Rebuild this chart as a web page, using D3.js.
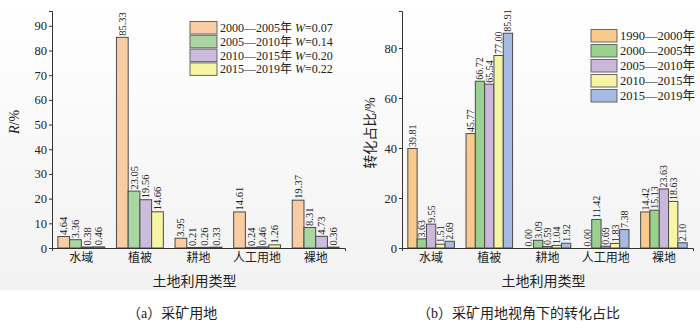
<!DOCTYPE html>
<html>
<head>
<meta charset="utf-8">
<script src="https://cdn.jsdelivr.net/npm/d3@7/dist/d3.min.js"></script>
<style>
  html, body { margin: 0; padding: 0; background: #fff; }
  svg { display: block; }
  text { font-family: "Liberation Serif", "Noto Sans CJK SC", serif; fill: #222; }
</style>
</head>
<body>
<svg id="fig" width="700" height="330"></svg>
<script>
// Land-use categories shared by both panels
const categories = ["水域", "植被", "耕地", "人工用地", "裸地"];

// Panel (a): mining land, contribution R (%) per period
const periodsA = ["2000—2005年", "2005—2010年", "2010—2015年", "2015—2019年"];
const weightsA = ["0.07", "0.14", "0.20", "0.22"];
const a2000_2005 = [4.64, 85.33, 3.95, 14.61, 19.37];
const a2005_2010 = [3.36, 23.05, 0.21, 0.24, 8.31];
const a2010_2015 = [0.38, 19.56, 0.26, 0.46, 4.73];
const a2015_2019 = [0.46, 14.66, 0.33, 1.26, 0.36];
const valuesA = [a2000_2005, a2005_2010, a2010_2015, a2015_2019];
const colorsA = ["#f8cda3", "#a9d6a2", "#cbbbdc", "#f6f5a4"];
const ticksA = [0, 10, 20, 30, 40, 50, 60, 70, 80, 90];

// Panel (b): transfer share (%) seen from mining land
const periodsB = ["1990—2000年", "2000—2005年", "2005—2010年", "2010—2015年", "2015—2019年"];
const b1990_2000 = [39.81, 45.77, 0.00, 0.00, 14.42];
const b2000_2005 = [3.63, 66.72, 3.09, 11.42, 15.13];
const b2005_2010 = [9.55, 65.54, 0.59, 0.69, 23.63];
const b2010_2015 = [1.51, 77.00, 1.04, 1.83, 18.63];
const b2015_2019 = [2.69, 85.91, 1.92, 7.38, 2.10];
const valuesB = [b1990_2000, b2000_2005, b2005_2010, b2010_2015, b2015_2019];
const colorsB = ["#f8cb8d", "#9bd18e", "#cab7da", "#f7f4a3", "#a7bbe2"];
const ticksB = [0, 20, 40, 60, 80];

const svg = d3.select("#fig");

// soft paper tone behind the plotting area
const defs = svg.append("defs");
const grad = defs.append("linearGradient").attr("id", "paper")
  .attr("x1", 0).attr("y1", 0).attr("x2", 0).attr("y2", 1);
grad.append("stop").attr("offset", "0%").attr("stop-color", "#ffffff");
grad.append("stop").attr("offset", "100%").attr("stop-color", "#f2f2f2");
svg.append("rect").attr("x", 0).attr("y", 0).attr("width", 700).attr("height", 290)
  .attr("fill", "url(#paper)");

function panel(opts) {
  const g = svg.append("g");
  const x0 = d3.scaleBand().domain(categories)
    .range([opts.left, opts.right]).paddingInner(0.2).paddingOuter(0.1);
  const x1 = d3.scaleBand().domain(d3.range(opts.values.length))
    .range([0, x0.bandwidth()]);
  const y = d3.scaleLinear().domain([0, opts.ymax]).range([opts.bottom, opts.top]);

  // bars + rotated value labels
  opts.values.forEach((series, si) => {
    const sg = g.append("g");
    sg.selectAll("rect").data(series).join("rect")
      .attr("x", (d, i) => x0(categories[i]) + x1(si))
      .attr("y", d => y(d))
      .attr("width", x1.bandwidth())
      .attr("height", d => opts.bottom - y(d))
      .attr("fill", opts.colors[si])
      .attr("stroke", "#4a4a4a")
      .attr("stroke-width", 1);
    sg.selectAll("text").data(series).join("text")
      .attr("transform", (d, i) => {
        const cx = x0(categories[i]) + x1(si) + x1.bandwidth() / 2;
        return `translate(${cx},${y(d) - 1.5}) rotate(-90)`;
      })
      .attr("dominant-baseline", "central")
      .attr("text-anchor", "start")
      .style("font-size", opts.labelSize + "px")
      .text(d => d.toFixed(2));
  });

  // axes
  const yAxis = d3.axisLeft(y).tickValues(opts.ticks)
    .tickSizeInner(3).tickSizeOuter(3).tickPadding(2);
  const ya = g.append("g").attr("transform", `translate(${opts.left},0)`).call(yAxis);
  const xAxis = d3.axisBottom(x0).tickSizeInner(0).tickSizeOuter(3).tickPadding(5);
  const xa = g.append("g").attr("transform", `translate(0,${opts.bottom})`).call(xAxis);
  [ya, xa].forEach(a => {
    a.selectAll("path, line").attr("stroke", "#333");
    a.selectAll("text").style("font-size", "12.5px").attr("fill", "#222")
      .style("font-family", '"Liberation Serif", "Noto Sans CJK SC", serif');
  });
  xa.selectAll("text").style("font-size", "12px");

  // axis titles
  g.append("text")
    .attr("x", (opts.left + opts.right) / 2 - 4).attr("y", 281)
    .attr("text-anchor", "middle").attr("dominant-baseline", "central")
    .style("font-size", "14px").text("土地利用类型");
  return { g, x0, y };
}

// ---- panel (a)
const pa = panel({
  left: 52, right: 345, top: 11, bottom: 248, ymax: 96,
  values: valuesA, colors: colorsA, ticks: ticksA, labelSize: 10.5
});
pa.g.append("text")
  .attr("transform", "translate(14,122) rotate(-90)")
  .attr("text-anchor", "middle").attr("dominant-baseline", "central")
  .style("font-size", "14px")
  .call(t => {
    t.append("tspan").style("font-style", "italic").text("R");
    t.append("tspan").text("/%");
  });
const legA = pa.g.append("g");
periodsA.forEach((p, i) => {
  const yy = 21.5 + i * 13.8;
  legA.append("rect").attr("x", 190).attr("y", yy).attr("width", 27).attr("height", 12.5)
    .attr("fill", colorsA[i]).attr("stroke", "#666").attr("stroke-width", 1);
  const t = legA.append("text").attr("x", 220).attr("y", yy + 6.5)
    .attr("dominant-baseline", "central").style("font-size", "12px");
  t.append("tspan").text(p + " ");
  t.append("tspan").style("font-style", "italic").text("W");
  t.append("tspan").text("=" + weightsA[i]);
});

// ---- panel (b)
const pb = panel({
  left: 402, right: 693, top: 11, bottom: 248, ymax: 94.8,
  values: valuesB, colors: colorsB, ticks: ticksB, labelSize: 10
});
pb.g.append("text")
  .attr("transform", "translate(370,133) rotate(-90)")
  .attr("text-anchor", "middle").attr("dominant-baseline", "central")
  .style("font-size", "14px").text("转化占比/%");
const legB = pb.g.append("g");
periodsB.forEach((p, i) => {
  const yy = 29.5 + i * 15;
  legB.append("rect").attr("x", 591).attr("y", yy).attr("width", 26).attr("height", 12.5)
    .attr("fill", colorsB[i]).attr("stroke", "#666").attr("stroke-width", 1);
  legB.append("text").attr("x", 620).attr("y", yy + 6.5)
    .attr("dominant-baseline", "central").style("font-size", "12.5px").text(p);
});

// sub-figure captions
svg.append("text").attr("x", 127).attr("y", 313).attr("dominant-baseline", "central")
  .style("font-size", "14px").text("（a）采矿用地");
svg.append("text").attr("x", 417).attr("y", 313).attr("dominant-baseline", "central")
  .style("font-size", "14px").text("（b）采矿用地视角下的转化占比");
</script>
</body>
</html>
